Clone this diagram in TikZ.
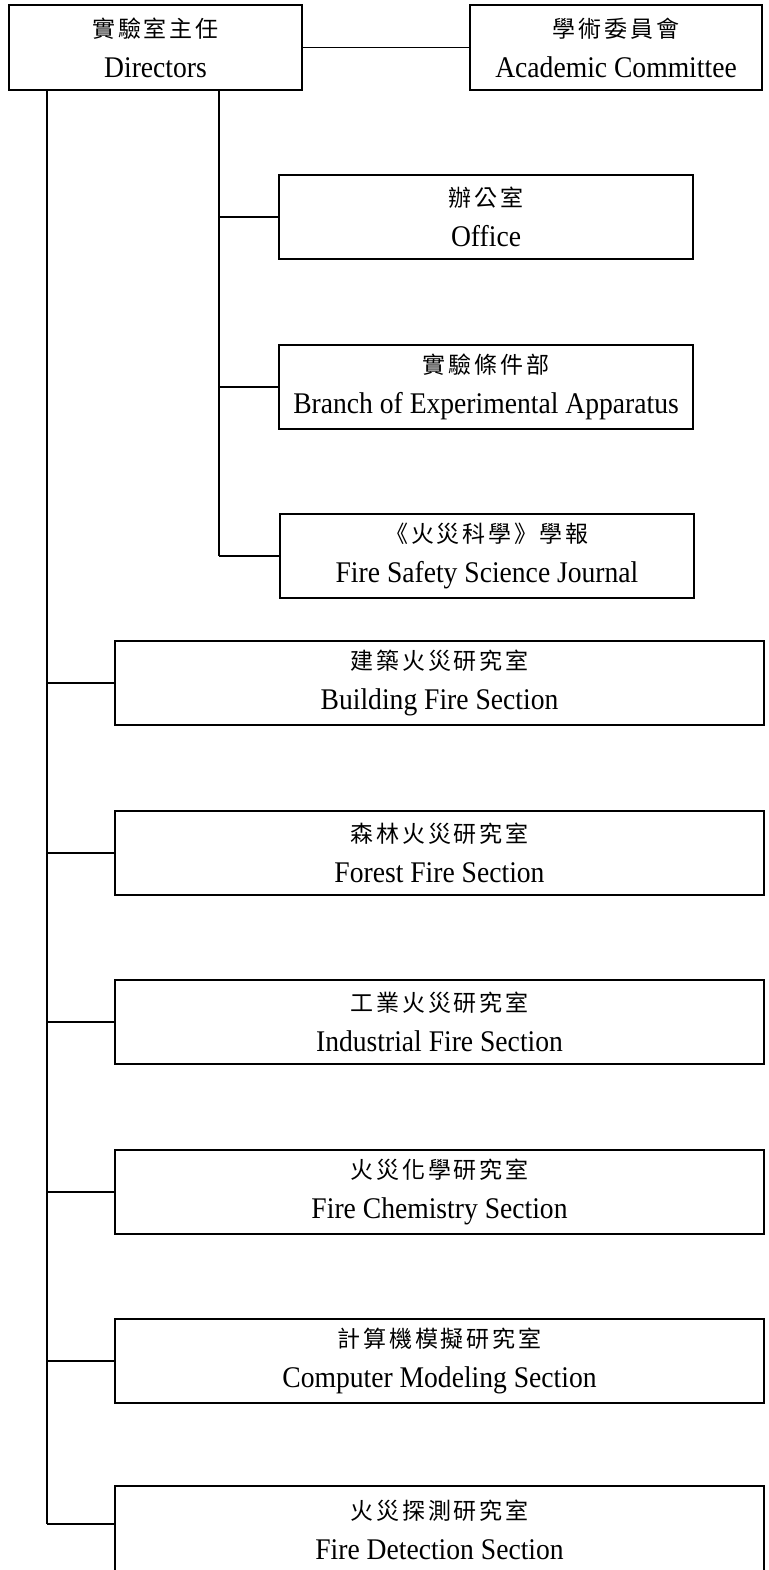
\documentclass[tikz,border=0pt]{standalone}
\usepackage{fontspec}
\setmainfont{Liberation Serif}[FakeStretch=0.92]
\newfontfamily\cjk{Noto Sans CJK TC}[LetterSpace=12]
\begin{document}
\begin{tikzpicture}[x=1pt,y=-1pt,
  box/.style={draw, line width=1.6pt, inner sep=0pt, align=center,
    font=\fontsize{30}{40}\selectfont},
  conn/.style={line width=1.6pt}]
\useasboundingbox (0,0) rectangle (768,1570);
\clip (0,0) rectangle (768,1570);
\newcommand{\zhtext}[1]{{\cjk\fontsize{23}{40}\selectfont #1}}
\node[box, minimum width=293pt, minimum height=85pt] (dir) at (155.5,47.5) {\zhtext{實驗室主任}\\Directors};
\node[box, minimum width=292pt, minimum height=85pt] (ac) at (616,47.5) {\zhtext{學術委員會}\\Academic Committee};
\node[box, minimum width=414pt, minimum height=84pt] (off) at (486,217) {\zhtext{辦公室}\\Office};
\node[box, minimum width=414pt, minimum height=84pt] (app) at (486,387) {\zhtext{實驗條件部}\\Branch of Experimental Apparatus};
\node[box, minimum width=414pt, minimum height=84pt] (jnl) at (487,556) {\zhtext{《火災科學》學報}\\Fire Safety Science Journal};
\node[box, minimum width=649pt, minimum height=84pt] (bld) at (439.5,683) {\zhtext{建築火災研究室}\\Building Fire Section};
\node[box, minimum width=649pt, minimum height=84pt] (frs) at (439.5,853) {\zhtext{森林火災研究室}\\Forest Fire Section};
\node[box, minimum width=649pt, minimum height=84pt] (ind) at (439.5,1022) {\zhtext{工業火災研究室}\\Industrial Fire Section};
\node[box, minimum width=649pt, minimum height=84pt] (chm) at (439.5,1192) {\zhtext{火災化學研究室}\\Fire Chemistry Section};
\node[box, minimum width=649pt, minimum height=84pt] (cmp) at (439.5,1361) {\zhtext{計算機模擬研究室}\\Computer Modeling Section};
\node[box, minimum width=649pt, minimum height=88pt] (det) at (439.5,1530) {\zhtext{火災探測研究室}\\Fire Detection Section};
% connectors
\draw[conn] (dir.east) -- (ac.west);
\coordinate (lt) at (47,90);
\coordinate (lb) at (47,1524);
\coordinate (it) at (219,90);
\coordinate (ib) at (219,556);
\draw[conn] (lt) -- (lb);
\draw[conn] (it) -- (ib);
\draw[conn] (off.west) -- (off.west -| it);
\draw[conn] (app.west) -- (app.west -| it);
\draw[conn] (jnl.west) -- (ib);
\draw[conn] (bld.west) -- (bld.west -| lt);
\draw[conn] (frs.west) -- (frs.west -| lt);
\draw[conn] (ind.west) -- (ind.west -| lt);
\draw[conn] (chm.west) -- (chm.west -| lt);
\draw[conn] (cmp.west) -- (cmp.west -| lt);
\draw[conn] (lb) -- (lb -| det.west);
\end{tikzpicture}
\end{document}
